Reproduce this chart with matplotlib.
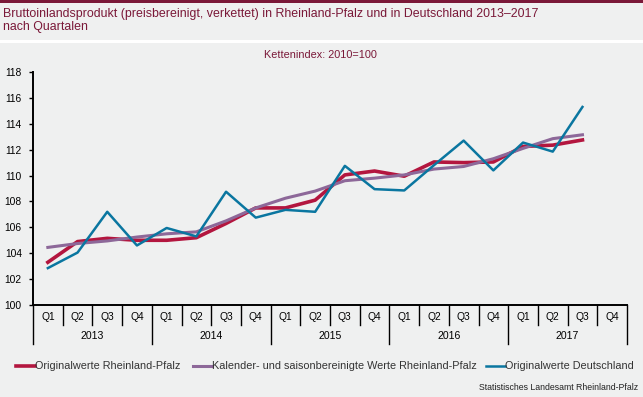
import matplotlib
matplotlib.use("Agg")
import matplotlib.pyplot as plt
from matplotlib.lines import Line2D
from matplotlib.patches import Rectangle
import matplotlib.transforms as mtransforms
import numpy as np

plt.rcParams['font.family'] = ['Liberation Sans', 'DejaVu Sans']

# Quarterly data 2013 Q1 .. 2017 Q3 (2017 Q4 not yet available)
years = ["2013", "2014", "2015", "2016", "2017"]
quarters = ["Q1", "Q2", "Q3", "Q4"]
orig_rlp = [103.3, 104.9, 105.15, 105.0, 105.0, 105.2, 106.3, 107.5,
            107.5, 108.1, 110.05, 110.35, 109.95, 111.05, 111.0, 111.05,
            112.25, 112.35, 112.75]
sa_rlp = [104.45, 104.75, 104.95, 105.25, 105.5, 105.65, 106.5, 107.5,
          108.25, 108.8, 109.6, 109.8, 110.05, 110.5, 110.7, 111.3,
          112.1, 112.85, 113.15]
orig_de = [102.85, 104.05, 107.2, 104.6, 105.95, 105.3, 108.75, 106.75,
           107.35, 107.2, 110.75, 108.95, 108.85, 110.8, 112.7, 110.4,
           112.55, 111.85, 115.3]

c_red = "#b3163f"
c_purple = "#8d6899"
c_blue = "#0a76a0"
c_title = "#7a1838"
bg = "#eff0f0"

W, H = 643, 397
fig = plt.figure(figsize=(W / 100, H / 100), dpi=100)
fig.patch.set_facecolor("white")

# background panels (behind the axes)
fig.add_artist(Rectangle((0, 1 - 3 / H), 1, 3 / H, transform=fig.transFigure,
                         color=c_title, lw=0, zorder=-5))
fig.add_artist(Rectangle((0, 1 - 40 / H), 1, 37 / H, transform=fig.transFigure,
                         color=bg, lw=0, zorder=-5))
fig.add_artist(Rectangle((0, 0), 1, 1 - 43 / H, transform=fig.transFigure,
                         color=bg, lw=0, zorder=-5))

fig.text(3 / W, 1 - 14 / H, "Bruttoinlandsprodukt (preisbereinigt, verkettet) in "
         "Rheinland-Pfalz und in Deutschland 2013\u20132017",
         fontsize=8.9, color=c_title, va="center", ha="left")
fig.text(3 / W, 1 - 27 / H, "nach Quartalen", fontsize=8.9, color=c_title,
         va="center", ha="left")
fig.text(320 / W, 1 - 55 / H, "Kettenindex: 2010=100", fontsize=7.8,
         color=c_title, ha="center", va="center")

left, right, top, bottom = 33, 627, 72, 305
ax = fig.add_axes([left / W, 1 - bottom / H, (right - left) / W, (bottom - top) / H])
ax.set_facecolor(bg)

n = len(years) * len(quarters)
x = np.arange(len(orig_rlp))
ax.plot(x, orig_rlp, color=c_red, lw=2.6)
ax.plot(x, sa_rlp, color=c_purple, lw=2.2)
ax.plot(x, orig_de, color=c_blue, lw=1.8)

ax.set_xlim(-0.5, n - 0.5)
ax.set_ylim(100, 118)
ax.set_yticks(np.arange(100, 119, 2))
ax.tick_params(axis="y", labelsize=7.4, length=3, width=1, pad=5, colors="black")
ax.set_xticks([])
for s in ["top", "right"]:
    ax.spines[s].set_visible(False)
ax.spines["left"].set_linewidth(1.4)
ax.spines["bottom"].set_linewidth(1.4)

# category axis below the plot
trans = mtransforms.blended_transform_factory(ax.transData, fig.transFigure)
y0 = 1 - bottom / H
yq = 1 - 325 / H
yy = 1 - 344 / H
for i in range(n + 1):
    ybot = yy if i % 4 == 0 else yq
    ax.add_artist(Line2D([i - 0.5, i - 0.5], [y0, ybot], transform=trans,
                         color="black", lw=1, clip_on=False))
for i in range(n):
    ax.text(i, 1 - 317 / H, quarters[i % 4], transform=trans, fontsize=7.4,
            ha="center", va="center")
for j, yr in enumerate(years):
    ax.text(j * 4 + 1.5, 1 - 336 / H, yr, transform=trans, fontsize=7.6,
            ha="center", va="center")

# legend
ly = 1 - 366 / H
entries = [(16, "Originalwerte Rheinland-Pfalz", c_red, 2.6),
           (193, "Kalender- und saisonbereinigte Werte Rheinland-Pfalz", c_purple, 2.2),
           (486, "Originalwerte Deutschland", c_blue, 1.8)]
for x0, label, col, lw in entries:
    fig.add_artist(Line2D([x0 / W, (x0 + 19) / W], [ly, ly],
                          transform=fig.transFigure, color=col, lw=lw))
    fig.text((x0 + 19) / W, ly, label, fontsize=7.8, color="#333333",
             ha="left", va="center")

fig.text(638 / W, 1 - 388 / H, "Statistisches Landesamt Rheinland-Pfalz",
         fontsize=6.3, color="#222222", ha="right", va="center")

fig.savefig("out.png", dpi=100, facecolor=fig.get_facecolor())
